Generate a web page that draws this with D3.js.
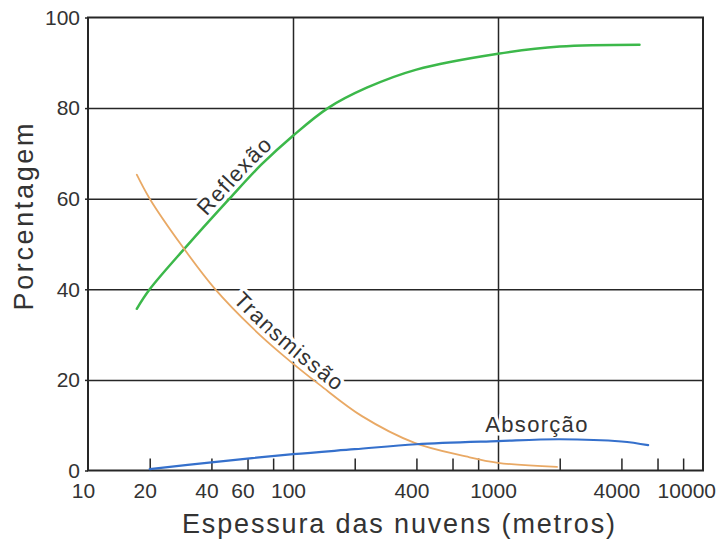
<!DOCTYPE html>
<html>
<head>
<meta charset="utf-8">
<script src="https://cdn.jsdelivr.net/npm/d3@7/dist/d3.min.js"></script>
<style>
  html, body { margin: 0; padding: 0; background: #ffffff; }
  svg { display: block; }
  text { font-family: "Liberation Sans", Arial, Helvetica, sans-serif; fill: #333; }
</style>
</head>
<body>
<svg id="chart" width="724" height="543"></svg>
<script>
// Cloud thickness (m) vs. percentage of incoming solar radiation
const reflexaoX = [17.3, 20, 30, 49, 70, 100, 148, 229, 400, 1000, 2000, 4900];
const reflexaoY = [35.7, 40, 49.3, 60, 67.5, 73.9, 80, 84.5, 88.5, 92.0, 93.6, 94];

const transmissaoX = [17.3, 20, 28.7, 41.6, 64, 88, 135, 217, 392, 698, 1000, 1940];
const transmissaoY = [65.3, 60, 49.6, 40.1, 31.3, 25.7, 18.9, 12.0, 6.1, 3.1, 1.7, 0.8];

const absorcaoX = [20, 40, 100, 200, 400, 1000, 2000, 4000, 5400];
const absorcaoY = [0.3, 1.8, 3.6, 4.7, 5.8, 6.5, 6.9, 6.4, 5.6];

const seriesNames = ["Reflexão", "Transmissão", "Absorção"];
const seriesColors = ["#3cb84a", "#e9a965", "#3570cc"];
const seriesWidths = [2.5, 1.8, 2.2];
// thickness where each curve label is centred
const labelAtX = [57, 86, 1550];

const xTickValues = [10, 20, 40, 60, 100, 400, 1000, 4000, 10000];
const xTickLabels = ["10", "20", "40", "60", "100", "400", "1000", "4000", "10000"];
const xMinorTicks = [20, 40, 60, 80, 200, 400, 600, 800, 2000, 4000, 6000, 8000];
const xGridValues = [100, 1000];
const yTickValues = [0, 20, 40, 60, 80, 100];
const yGridValues = [20, 40, 60, 80];

const xTitle = "Espessura das nuvens (metros)";
const yTitle = "Porcentagem";

const W = 724, H = 543;
const margin = { top: 17.5, right: 21, bottom: 72.5, left: 88 };
const innerW = W - margin.left - margin.right;
const innerH = H - margin.top - margin.bottom;

const svg = d3.select("#chart");
const g = svg.append("g").attr("transform", `translate(${margin.left},${margin.top})`);

const x = d3.scaleLog().domain([10, 10000]).range([0, innerW]);
const y = d3.scaleLinear().domain([0, 100]).range([innerH, 0]);

const ink = "#262626";

// horizontal grid
g.append("g")
  .call(d3.axisLeft(y).tickValues(yGridValues).tickSize(-innerW).tickFormat(""))
  .call(s => s.select(".domain").remove())
  .call(s => s.selectAll("line").attr("stroke", ink).attr("stroke-width", 1.5));

// vertical grid
g.append("g")
  .attr("transform", `translate(0,${innerH})`)
  .call(d3.axisBottom(x).tickValues(xGridValues).tickSize(-innerH).tickFormat(""))
  .call(s => s.select(".domain").remove())
  .call(s => s.selectAll("line").attr("stroke", ink).attr("stroke-width", 1.5));

// inward minor ticks along the bottom
g.append("g")
  .attr("transform", `translate(0,${innerH})`)
  .call(d3.axisBottom(x).tickValues(xMinorTicks).tickSize(-12).tickFormat(""))
  .call(s => s.select(".domain").remove())
  .call(s => s.selectAll("line").attr("stroke", ink).attr("stroke-width", 1.5));

// frame
g.append("rect")
  .attr("x", 0).attr("y", 0).attr("width", innerW).attr("height", innerH)
  .attr("fill", "none").attr("stroke", ink).attr("stroke-width", 2);

// y axis labels
g.append("g")
  .call(d3.axisLeft(y).tickValues(yTickValues).tickSize(3).tickPadding(5).tickFormat(d3.format("d")))
  .call(s => s.select(".domain").remove())
  .call(s => s.selectAll("line").attr("stroke", ink).attr("stroke-width", 1.5))
  .call(s => s.selectAll("text").attr("font-size", 21).attr("fill", "#333")
    .style("font-family", "'Liberation Sans', Arial, sans-serif"));

// x axis labels
const xAxisG = g.append("g")
  .attr("transform", `translate(0,${innerH})`)
  .call(d3.axisBottom(x).tickValues(xTickValues).tickSize(0).tickPadding(13)
    .tickFormat((d, i) => xTickLabels[i]))
  .call(s => s.select(".domain").remove())
  .call(s => s.selectAll("text").attr("font-size", 21).attr("fill", "#333")
    .style("font-family", "'Liberation Sans', Arial, sans-serif"));

// nudge labels left a little, keeping the last one inside the page
xAxisG.selectAll(".tick text").each(function () {
  const bb = this.getBBox();
  const tr = this.parentNode.getAttribute("transform");
  const tx = +tr.match(/translate\(([-\d.]+)/)[1];
  let dx = -5;
  const rightEdge = margin.left + tx + dx + bb.width / 2;
  if (rightEdge > W - 8) dx -= rightEdge - (W - 8);
  d3.select(this).attr("dx", dx);
});

// axis titles
svg.append("text")
  .attr("x", 398.5).attr("y", 533)
  .attr("text-anchor", "middle")
  .attr("font-size", 27)
  .attr("textLength", 433).attr("lengthAdjust", "spacing")
  .text(xTitle);

svg.append("text")
  .attr("transform", `translate(33,217) rotate(-90)`)
  .attr("text-anchor", "middle")
  .attr("font-size", 27)
  .attr("textLength", 187).attr("lengthAdjust", "spacing")
  .text(yTitle);

// curves
const seriesX = [reflexaoX, transmissaoX, absorcaoX];
const seriesY = [reflexaoY, transmissaoY, absorcaoY];

const line = d3.line()
  .x(d => x(d[0]))
  .y(d => y(d[1]))
  .curve(d3.curveCatmullRom.alpha(0.5));

const labelLayer = g.append("g");
const curveLayer = g.append("g");

const paths = seriesNames.map((name, i) => {
  const pts = seriesX[i].map((v, k) => [v, seriesY[i][k]]);
  return curveLayer.append("path")
    .attr("id", "curve" + i)
    .attr("d", line(pts))
    .attr("fill", "none")
    .attr("stroke", seriesColors[i])
    .attr("stroke-width", seriesWidths[i])
    .attr("stroke-linecap", "round");
});

function lengthAtX(node, px) {
  let lo = 0, hi = node.getTotalLength();
  for (let k = 0; k < 40; k++) {
    const mid = (lo + hi) / 2;
    if (node.getPointAtLength(mid).x < px) lo = mid; else hi = mid;
  }
  return (lo + hi) / 2;
}

const labelStyle = s => s
  .attr("font-size", 22)
  .attr("letter-spacing", 1.3)
  .attr("fill", "#2e2e2e")
  .attr("stroke", "#ffffff")
  .attr("stroke-width", 7)
  .attr("stroke-linejoin", "round")
  .attr("paint-order", "stroke");

// labels that follow their curves
[0, 1].forEach(i => {
  const node = paths[i].node();
  const off = lengthAtX(node, x(labelAtX[i]));
  labelLayer.append("text")
    .call(labelStyle)
    .attr("dy", -5)
    .append("textPath")
    .attr("href", "#curve" + i)
    .attr("startOffset", off)
    .attr("text-anchor", "middle")
    .text(seriesNames[i]);
});

// horizontal label above the absorption curve
{
  const node = paths[2].node();
  const pt = node.getPointAtLength(lengthAtX(node, x(labelAtX[2])));
  labelLayer.append("text")
    .call(labelStyle)
    .attr("x", pt.x)
    .attr("y", pt.y - 8)
    .attr("text-anchor", "middle")
    .text(seriesNames[2]);
}
</script>
</body>
</html>
